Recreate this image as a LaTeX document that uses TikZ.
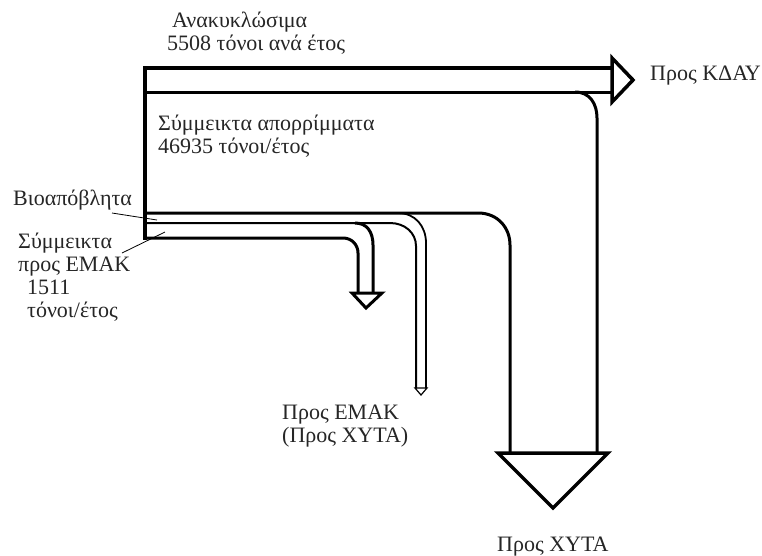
\documentclass[tikz,border=0pt]{standalone}
\usepackage{fontspec}
\setmainfont{Liberation Serif}
\begin{document}
\begin{tikzpicture}[x=1pt,y=-1pt,
  wall/.style={line width=3pt, line join=miter},
  lightwall/.style={line width=1.8pt},
  lbl/.style={inner sep=0pt, font=\fontsize{22}{23}\selectfont, align=left, anchor=base west, text=black!85},
  leader/.style={line width=0.8pt}]
\useasboundingbox[fill=white] (0,0) rectangle (762,555);

% left edge of the whole flow
\draw[line width=4.5pt] (145,66) -- (145,240);

% recyclables band with its arrow head
\draw[wall, line width=3.5pt] (145,68) -- (612,68);
\draw[wall] (145,92) -- (612,92);
\draw[wall, line width=3.5pt] (612,58) -- (633,80) -- (612,102) -- cycle;

% mixed waste pipe towards the landfill
\draw[wall] (575,92) .. controls (590,92) and (597,104) .. (597,118) -- (597,453);
\draw[wall] (145,213) -- (478,213) .. controls (498,213) and (510,228) .. (510,245) -- (510,453);
\draw[wall, line width=3.5pt] (498,453) -- (608,453) -- (553,508) -- cycle;

% narrow pipe (bio-waste)
\draw[lightwall] (398,213) .. controls (415,213) and (426,226) .. (426,243) -- (426,388);
\draw[lightwall, line width=2pt] (145,223) -- (390,223) .. controls (405,223) and (416,233) .. (416,246) -- (416,388);
\draw[lightwall, line width=1.2pt] (415,388) -- (427,388) -- (421,395) -- cycle;

% small pipe (mixed to EMAK)
\draw[wall] (355,223) .. controls (367,223) and (373,232) .. (373,245) -- (373,293);
\draw[wall] (145,238) -- (343,238) .. controls (352,238) and (358,245) .. (358,253) -- (358,293);
\draw[wall] (352,293) -- (382,293) -- (366,308) -- cycle;

% labels (a multi-line node is placed by the baseline of its last line)
\node[lbl] (recyc) at (167,50) {\hspace{5pt}Ανακυκλώσιμα\\5508 τόνοι ανά έτος};
\node[lbl] (kday) at (650,80) {Προς ΚΔΑΥ};
\node[lbl] (mixed) at (158,153) {Σύμμεικτα απορρίμματα\\46935 τόνοι/έτος};
\node[lbl] (bio) at (13,205) {Βιοαπόβλητα};
\node[lbl] (emakin) at (18,317) {Σύμμεικτα\\προς ΕΜΑΚ\\\hspace{9pt}1511\\\hspace{9pt}τόνοι/έτος};
\node[lbl] (emak) at (282,442) {Προς ΕΜΑΚ\\(Προς ΧΥΤΑ)};
\node[lbl] (xyta) at (497,551) {Προς ΧΥΤΑ};

% leader lines
\coordinate (biotip) at (157,220);
\coordinate (biofrom) at (112,213);
\coordinate (emaktip) at (165,232);
\coordinate (emakfrom) at (122,253);
\draw[leader] (biofrom) -- (biotip);
\draw[leader] (emakfrom) -- (emaktip);
\end{tikzpicture}
\end{document}
